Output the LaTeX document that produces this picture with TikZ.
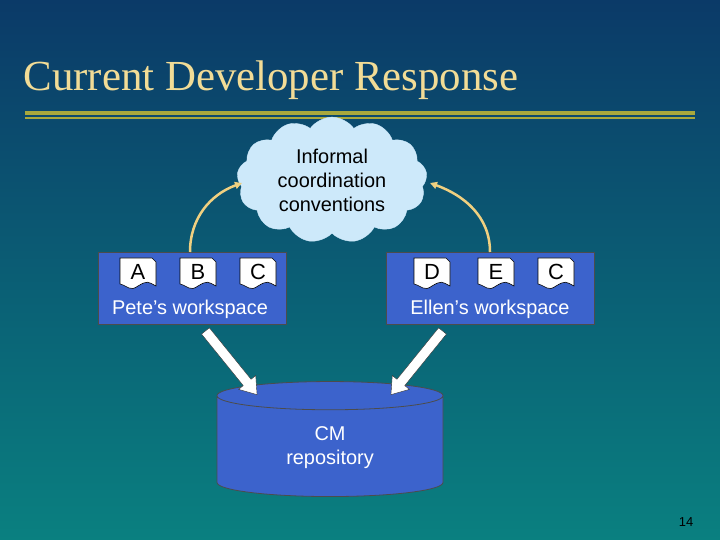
\documentclass[tikz,border=0pt]{standalone}
\usepackage{fontspec}
\setmainfont{Liberation Sans}
\newfontfamily\titlefont{Liberation Serif}
\usetikzlibrary{shapes.symbols, shapes.arrows, shapes.geometric, arrows.meta, positioning}
\definecolor{bgtop}{HTML}{0B3A68}
\definecolor{bgbot}{HTML}{0A8080}
\definecolor{titlecol}{HTML}{F2DC96}
\definecolor{rulecol}{HTML}{A8A83C}
\definecolor{wsblue}{HTML}{3C63CC}
\definecolor{cloudcol}{HTML}{CDE9FA}
\definecolor{linkcol}{HTML}{F0D080}

% document icon with a wavy lower edge
\newcommand{\docicon}[4]{%
  \fill[white, draw=black, line width=0.6bp] (#1,#2) -- ++(32,0) -- ++(4,4) -- ++(0,24)
    .. controls ++(-8,-4) and ++(10,-6) .. ++(-18,0)
    .. controls ++(-8,6) and ++(8,2) .. ++(-18,-2) -- cycle;
  \node[font=\fontsize{22}{24}\selectfont] (#4) at ({#1+18},{#2+14}) {#3};
}

\begin{document}
\begin{tikzpicture}[x=1bp, y=-1bp,
    wsbox/.style={rectangle, draw=black!70, fill=wsblue, line width=0.8bp, anchor=north west, inner sep=0},
    wslabel/.style={text=white, font=\fontsize{20}{22}\selectfont},
    link/.style={linkcol, line width=2.5bp, -{Triangle[length=7bp, width=7bp]}},
    push/.style={single arrow, draw=black!80, fill=white, minimum height=82bp, minimum width=22bp,
      single arrow head extend=5bp, single arrow tip angle=70, inner sep=4bp}
]
\useasboundingbox (0,0) rectangle (720,540);
\shade[top color=bgtop, bottom color=bgbot] (0,0) rectangle (720,540);

% title and rule
\node[anchor=west, text=titlecol, font=\titlefont\fontsize{43}{46}\selectfont] (title) at (20,80) {Current Developer Response};
\fill[rulecol] (25,111) rectangle (695,115);
\fill[rulecol] (25,117) rectangle (695,119);

% cloud
\node[cloud, cloud puffs=13, cloud puff arc=110, aspect=1.5, fill=cloudcol, draw=cloudcol,
  minimum width=190bp, minimum height=115bp, align=center, font=\fontsize{20}{24}\selectfont] (cloud) at (332,180)
  {Informal\\coordination\\conventions};

% workspaces
\node[wsbox, minimum width=188bp, minimum height=72bp] (pete) at (98,252) {};
\node[wsbox, minimum width=208bp, minimum height=72bp] (ellen) at (386,252) {};
\docicon{120}{258}{A}{docA}
\docicon{180}{258}{B}{docB}
\docicon{240}{258}{C}{docC}
\docicon{414}{258}{D}{docD}
\docicon{478}{258}{E}{docE}
\docicon{538}{258}{C}{docC2}
\node[wslabel] (petelbl) at (190,309) {Pete’s workspace};
\node[wslabel] (ellenlbl) at (490,309) {Ellen’s workspace};

% repository
\node[cylinder, shape border rotate=90, aspect=0.3, draw=black!70, fill=wsblue, line width=0.8bp,
  minimum width=226bp, minimum height=115bp, text=white, align=center,
  font=\fontsize{20}{24}\selectfont] (repo) at (330,448) {CM\\repository};

% arrows
\coordinate (peteout) at (190,252);
\coordinate (ellenout) at (490,252);
\coordinate (cloudL) at (242,183);
\coordinate (cloudR) at (430,183);
\draw[link] (peteout) to[out=90, in=200] (cloudL);
\draw[link] (ellenout) to[out=90, in=-20] (cloudR);
\node[push, rotate=-51] (pushL) at (229,360) {};
\node[push, rotate=-129] (pushR) at (419,360) {};

\node[font=\fontsize{13}{15}\selectfont] (page) at (686,522) {14};
\end{tikzpicture}
\end{document}
